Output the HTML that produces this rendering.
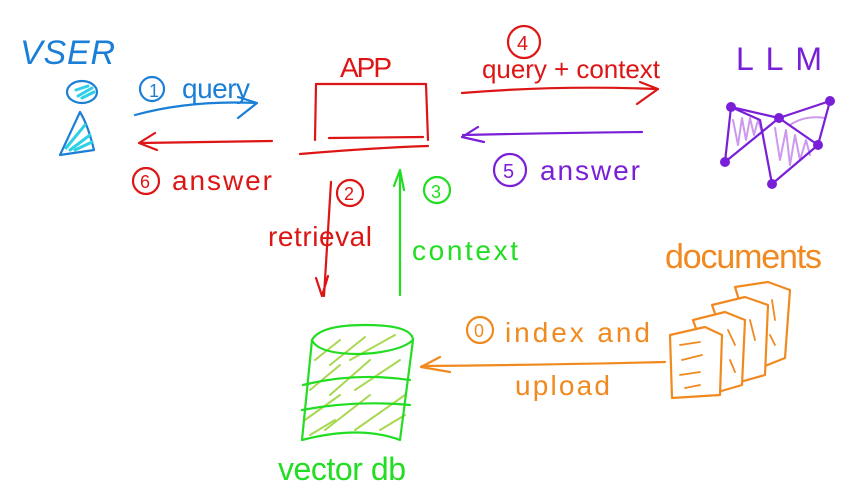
<!DOCTYPE html>
<html><head><meta charset="utf-8"><style>
html,body{margin:0;padding:0;background:#fff;width:857px;height:499px;overflow:hidden}
svg{display:block}
text{font-family:"Liberation Sans",sans-serif}
</style></head><body>
<svg width="857" height="499" viewBox="0 0 857 499" xmlns="http://www.w3.org/2000/svg" fill="none" stroke-linecap="round" stroke-linejoin="round">
<!-- USER -->
<g stroke="#1b7fd6" stroke-width="2.2">
<text x="20" y="64" font-size="34" fill="#1b7fd6" stroke="none" font-style="italic" textLength="95">VSER</text>
<ellipse cx="82" cy="92" rx="15" ry="11"/>
<path d="M76 90 L88 86 M78 96 L92 88 M82 98 L94 92" stroke="#2ed0e8" stroke-width="3"/>
<path d="M60 155 L80 112 Q88 125 94 150 Z"/>
<path d="M66 148 L85 125 M70 150 L90 135 M75 150 L92 142" stroke="#2ed0e8" stroke-width="3"/>
<circle cx="152" cy="89" r="12"/>
<text x="149" y="97" font-size="18" fill="#1b7fd6" stroke="none">1</text>
<text x="182" y="98" font-size="28" fill="#1b7fd6" stroke="none" textLength="68">query</text>
<path d="M135 115 Q190 100 256 103 M238 97 L257 103 L238 118"/>
</g>
<!-- App -->
<g stroke="#dd1515" stroke-width="2.2">
<text x="340" y="77" font-size="28" fill="#dd1515" stroke="none" textLength="52">APP</text>
<path d="M316 84 L426 84 L428 140 M316 84 L315 140 M329 138 L423 137 M300 154 Q370 148 428 146"/>
<path d="M272 141 L140 143 M155 133 L139 143 L157 150"/>
<circle cx="146" cy="181" r="13"/>
<text x="140" y="188" font-size="18" fill="#dd1515" stroke="none">6</text>
<text x="172" y="190" font-size="28" fill="#dd1515" stroke="none" textLength="100">answer</text>
<circle cx="350" cy="193" r="13"/>
<text x="344" y="200" font-size="18" fill="#dd1515" stroke="none">2</text>
<path d="M331 182 L324 296 M316 278 L322 296 L328 276"/>
<text x="268" y="246" font-size="28" fill="#dd1515" stroke="none" textLength="104">retrieval</text>
<circle cx="524" cy="42" r="16"/>
<text x="517" y="50" font-size="20" fill="#dd1515" stroke="none">4</text>
<text x="482" y="78" font-size="26" fill="#dd1515" stroke="none" textLength="178">query + context</text>
<path d="M462 93 Q560 85 656 89 M637 104 L658 89 L640 82"/>
</g>
<!-- green -->
<g stroke="#22dd22" stroke-width="2.2">
<path d="M400 295 L400 170 M394 186 L400 170 L404 190"/>
<circle cx="437" cy="190" r="13"/>
<text x="431" y="198" font-size="18" fill="#22dd22" stroke="none">3</text>
<text x="412" y="260" font-size="28" fill="#22dd22" stroke="none" textLength="106">context</text>
<path d="M315 360 L340 340 M330 365 L365 337 M350 360 L395 335 M310 390 L340 365 M330 395 L370 360 M355 390 L400 360 M305 420 L340 395 M325 430 L370 395 M355 430 L405 395 M310 435 L335 420 M380 430 L405 415" stroke="#a8d850" stroke-width="2"/>
<path d="M312 340 Q320 325 365 325 Q412 325 413 340 Q400 352 360 354 Q318 354 312 340 Z"/>
<path d="M312 340 L302 440 Q360 425 400 440 L413 340"/>
<path d="M303 385 Q355 372 410 380 M302 410 Q355 400 410 405"/>
<text x="278" y="480" font-size="32" fill="#22dd22" stroke="none" textLength="128">vector db</text>
</g>
<!-- purple -->
<g stroke="#7a1fd8" stroke-width="2.2">
<path d="M642 132 Q550 133 463 135 M478 127 L462 137 L484 142"/>
<circle cx="510" cy="170" r="16"/>
<text x="503" y="178" font-size="20" fill="#7a1fd8" stroke="none">5</text>
<text x="540" y="180" font-size="28" fill="#7a1fd8" stroke="none" textLength="100">answer</text>
<text x="736" y="70" font-size="32" fill="#7a1fd8" stroke="none" textLength="86">LLM</text>
<path d="M733 120 L738 145 L742 118 L746 140 L750 118 L754 135 L758 120 L762 132 M775 128 L780 160 L786 130 L790 165 L795 135 L800 160 L806 140 L810 155 M790 125 Q805 115 825 118" stroke="#cc99ee" stroke-width="2"/>
<path d="M731 107 L725 162 L779 118 L830 101 L818 145 L772 184 L760 120 L731 107 M731 107 L779 118 M779 118 L818 145"/>
<g fill="#7a1fd8" stroke="none"><circle cx="731" cy="107" r="5"/><circle cx="779" cy="118" r="5"/><circle cx="830" cy="101" r="5"/><circle cx="818" cy="145" r="5"/><circle cx="772" cy="184" r="5"/><circle cx="725" cy="162" r="5"/></g>
</g>
<!-- orange -->
<g stroke="#f08a20" stroke-width="2.2">
<text x="665" y="268" font-size="34" fill="#f08a20" stroke="none" textLength="157">documents</text>
<path d="M665 362 Q540 365 422 366 M440 357 L421 367 L450 372"/>
<circle cx="480" cy="330" r="13"/>
<text x="474" y="337" font-size="18" fill="#f08a20" stroke="none">0</text>
<text x="505" y="342" font-size="28" fill="#f08a20" stroke="none" textLength="145">index and</text>
<text x="515" y="395" font-size="28" fill="#f08a20" stroke="none" textLength="95">upload</text>
<path d="M735 287 L768 282 L790 290 L785 358 L760 368 Z"/>
<path d="M712 305 L745 297 L768 305 L765 375 L740 382 Z" fill="#fff"/>
<path d="M693 320 L725 312 L745 320 L742 385 L718 392 Z" fill="#fff"/>
<path d="M670 335 L705 327 L722 335 L720 395 L672 398 Z" fill="#fff"/>
<path d="M680 345 L700 342 M682 360 L702 355 M680 375 L700 372 M685 388 L700 385 M728 330 L735 345 M750 320 L755 340 M730 360 L735 372 M772 300 L775 320 M770 335 L775 345" stroke-width="1.8"/>
</g>
</svg>
</body></html>
